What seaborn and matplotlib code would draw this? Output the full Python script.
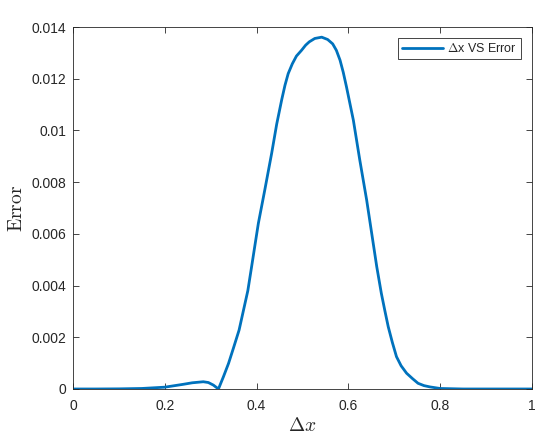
import numpy as np
import pandas as pd
import matplotlib
matplotlib.use("Agg")
import matplotlib.pyplot as plt
import seaborn as sns
from matplotlib.ticker import FuncFormatter

# Values
dx = [0.0, 0.05, 0.10, 0.15, 0.20, 0.24, 0.26, 0.284, 0.295, 0.306, 0.317,
      0.328, 0.339, 0.35, 0.362, 0.371, 0.381, 0.389, 0.396, 0.404, 0.418,
      0.433, 0.444, 0.455, 0.462, 0.469, 0.478, 0.487, 0.498, 0.507, 0.515,
      0.527, 0.542, 0.555, 0.566, 0.574, 0.582, 0.589, 0.596, 0.611, 0.625,
      0.640, 0.651, 0.662, 0.672, 0.680, 0.687, 0.696, 0.705, 0.715, 0.727,
      0.740, 0.752, 0.765, 0.778, 0.80, 0.85, 0.90, 1.0]
err = [0.0, 0.0, 0.000005, 0.00002, 0.00007, 0.00018, 0.00024, 0.00028,
       0.00025, 0.00015, 0.0, 0.00048, 0.00099, 0.0016, 0.00228, 0.0030,
       0.0038, 0.0047, 0.0055, 0.00641, 0.0077, 0.00912, 0.01025, 0.0112,
       0.01175, 0.0122, 0.01258, 0.01288, 0.0131, 0.0133, 0.01343, 0.01356,
       0.01361, 0.01352, 0.01335, 0.0131, 0.01272, 0.01225, 0.01169, 0.0104,
       0.00886, 0.00731, 0.00602, 0.00473, 0.0037, 0.003, 0.00241, 0.0018,
       0.00125, 0.0009, 0.00061, 0.0004, 0.00022, 0.00013, 0.00008, 0.00002,
       0.0, 0.0, 0.0]

df = pd.DataFrame({"dx": dx, "err": err})

sns.set_style("white")
plt.rcParams["font.family"] = ["Liberation Sans", "DejaVu Sans"]
plt.rcParams["mathtext.fontset"] = "cm"

fig = plt.figure(figsize=(5.5, 4.44), dpi=100)
ax = fig.add_axes([0.1327, 0.1239, 0.967 - 0.1327, 0.939 - 0.1239])

sns.lineplot(data=df, x="dx", y="err", ax=ax, color="#0072BD",
             linewidth=2, label=r"$\Delta$x VS Error")

ax.set_xlim(0, 1)
ax.set_ylim(0, 0.014)
ax.set_xticks(np.arange(0, 1.01, 0.2))
ax.set_yticks(np.arange(0, 0.0141, 0.002))
fmt = FuncFormatter(lambda v, p: "%g" % round(v, 6))
ax.xaxis.set_major_formatter(fmt)
ax.yaxis.set_major_formatter(fmt)

for s in ax.spines.values():
    s.set_color("#262626")
    s.set_linewidth(0.6)
ax.tick_params(direction="in", length=4, width=0.6, color="#262626",
               labelsize=10, labelcolor="#262626", top=True, right=True,
               bottom=True, left=True)
ax.tick_params(axis="x", pad=7)
ax.tick_params(axis="y", pad=5)

ax.set_xlabel(r"$\Delta x$", fontsize=14, labelpad=3)
ax.set_ylabel(r"$\mathrm{Error}$", fontsize=14, labelpad=4)

leg = ax.legend(loc="upper right", fontsize=9, handlelength=3.3,
                fancybox=False, framealpha=1, borderpad=0.3,
                handletextpad=0.3, borderaxespad=0.9)
leg.get_frame().set_edgecolor("#262626")
leg.get_frame().set_linewidth(0.6)

fig.savefig("out.png", dpi=100)
